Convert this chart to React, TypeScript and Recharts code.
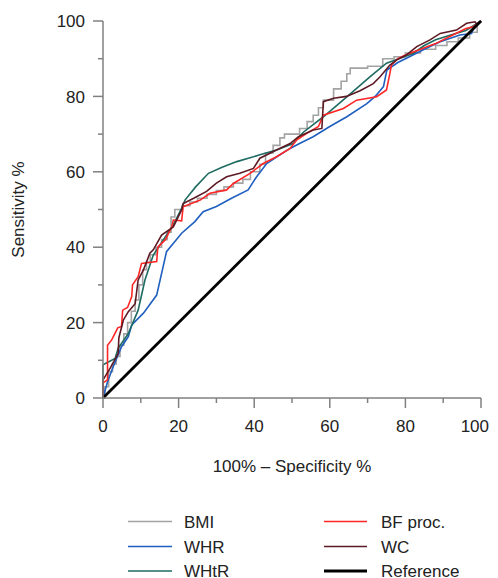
import React from 'react';
import { LineChart, Line, XAxis, YAxis } from 'recharts';

const axisTicks = [0, 10, 20, 30, 40, 50, 60, 70, 80, 90, 100];

const seriesNames = ['BMI', 'WHR', 'WHtR', 'BF proc.', 'WC', 'Reference'];

const bmiPoints: number[][] = [
  [0, 0], [0.5, 0], [0.5, 3], [1.5, 3], [1.5, 7], [2.5, 7], [2.5, 9], [3.5, 9], [3.5, 11], [4.5, 11],
  [4.5, 14], [5.5, 14], [5.5, 17], [6.5, 17], [6.5, 20], [7.5, 20], [7.5, 23], [8.5, 23], [8.5, 26],
  [9.5, 26], [9.5, 30], [10.5, 30], [10.5, 34], [11.5, 34], [11.5, 36], [12.5, 36], [12.5, 38], [14, 38],
  [14, 40], [15.5, 40], [15.5, 42], [17, 42], [17, 44], [18, 44], [18, 48], [19, 48], [19, 50], [21, 50],
  [21, 51], [23, 51], [23, 52], [25, 52], [25, 53], [27.5, 53], [27.5, 54], [30, 54], [30, 55], [32, 55],
  [32, 56], [34.5, 56], [34.5, 57], [37, 57], [37, 58], [39, 58], [39, 60], [41.5, 60], [41.5, 62], [43, 62],
  [43, 65], [45, 65], [45, 67], [46.8, 67], [46.8, 69], [48, 69], [48, 70], [52, 70], [52, 71.5], [54, 71.5],
  [54, 73.3], [55.6, 73.3], [55.6, 75], [57, 75], [57, 77], [58.3, 77], [58.3, 79], [61, 79], [61, 82],
  [63, 82], [63, 84], [64.5, 84], [64.5, 86], [65.4, 86], [65.4, 87.5], [70, 87.5], [70, 88], [74, 88],
  [74, 90], [77, 90], [77, 90.5], [80, 90.5], [80, 91.5], [84, 91.5], [84, 92.5], [88, 92.5], [88, 93.5],
  [91, 93.5], [91, 94.5], [94, 94.5], [94, 95.5], [97, 95.5], [97, 97], [99, 97], [99, 99], [100, 100],
];

const whrPoints: number[][] = [
  [0, 0], [1.2, 4.3], [2.7, 8.3], [4.9, 13.6], [6.7, 16.3], [7.6, 19.4], [10.7, 22.5], [14.2, 27.3],
  [16.8, 38.8], [20.8, 43.7], [24.3, 46.8], [26.5, 49.4], [30, 50.8], [34, 53], [38.4, 55.2], [40.5, 58.5],
  [43.3, 62.2], [46, 64], [49.5, 66.2], [52, 67.5], [55.6, 69.3], [60, 72], [64.5, 74.6], [69.8, 78.1],
  [72, 80], [74.2, 82.6], [75.1, 87], [78, 89], [80, 90], [85, 92.5], [89.2, 94.5], [94.4, 96.3],
  [97.5, 96.7], [98, 98], [100, 100],
];

const whtrPoints: number[][] = [
  [0, 0], [0, 8.8], [3.2, 10.5], [4, 13.2], [6.7, 17.1], [9.3, 23.3], [11.1, 31.3], [13.3, 37.9],
  [16, 42], [18.6, 45.9], [20.8, 50.3], [21.7, 52.5], [24.5, 56], [27.9, 59.6], [31.5, 61.2], [35.4, 62.7],
  [41.5, 64.5], [45.9, 65.8], [50.3, 67.5], [53, 70.5], [58.3, 74.6], [64.5, 79.9], [70.6, 85.2],
  [75, 88.8], [78.6, 90.1], [82, 91.4], [85, 93.5], [88, 95], [92, 96.3], [96, 97.5], [100, 100],
];

const bfPoints: number[][] = [
  [0, 0], [0, 4], [1.2, 4.8], [1.2, 14], [2.3, 15.4], [3.9, 18.6], [4.9, 19], [5.2, 23.3], [6.5, 24],
  [7.6, 26.9], [7.8, 30], [9.3, 32.2], [10.2, 35.7], [14.2, 36.2], [14.5, 40], [16.5, 42], [18.2, 45.4],
  [18.6, 47.2], [20.8, 47], [21.2, 50.7], [25.7, 52.5], [28.3, 54.3], [32.7, 55.2], [34.5, 56.9],
  [38.9, 59.6], [42.4, 62.2], [45.9, 64], [49.5, 66.2], [51.2, 68.4], [53.9, 70.2], [57, 72], [58.3, 75],
  [63.6, 76.8], [67.1, 79], [72.4, 79.9], [75, 81.7], [75.9, 86.1], [76.3, 88.3], [78, 90], [80, 91],
  [84, 92.5], [88, 94], [92, 96], [96, 98], [98, 98.5], [100, 100],
];

const wcPoints: number[][] = [
  [0, 0], [0, 4.8], [1.9, 7.9], [4, 11.8], [4.2, 16], [5.4, 20.7], [6.7, 22.9], [8.5, 25], [9.3, 31.3],
  [10.7, 34], [12.4, 38.4], [13.3, 39.3], [15.5, 43.2], [18.6, 45.4], [20.8, 49.9], [21.2, 51.6], [24, 53],
  [27.4, 54.8], [30, 57], [32.7, 58.7], [36.2, 59.6], [39.8, 60.9], [41.5, 63.6], [45.9, 65.8], [49.5, 67.5],
  [51.7, 69.3], [55.6, 71.1], [57.9, 71.5], [58.3, 78.6], [61, 79.5], [64.4, 80], [68, 81.5], [71.5, 83.4],
  [73.3, 85.2], [75.9, 88.3], [77.7, 89.7], [80.3, 91], [83, 93.2], [86.5, 95], [89.2, 96.7], [93.5, 97.6],
  [96.2, 99.4], [98.4, 99.8], [99, 99], [100, 100],
];

const referencePoints: number[][] = [[0, 0], [100, 100]];

const colors = ['#a3a3a3', '#1f5fbf', '#1e6b62', '#ff2626', '#5e1a24', '#000000'];
const widths = [1.6, 1.6, 1.6, 1.6, 1.6, 2.8];

const toData = (arr: number[][]) => arr.map(([x, y]) => ({ x, y }));

const allSeries = [bmiPoints, whrPoints, whtrPoints, bfPoints, wcPoints, referencePoints];

const FONT = '"Liberation Sans", Arial, sans-serif';
const AXIS_COLOR = '#808080';
const TEXT_COLOR = '#222';

const X_TICK_SIZE = 10;
const X_TICK_MARGIN = 12;
const Y_TICK_SIZE = 10;
const Y_TICK_MARGIN = 8;

const XTick = (props: any) => {
  const { x, y, payload } = props;
  const v = payload.value as number;
  const major = v % 20 === 0;
  const axisY = y - X_TICK_SIZE - X_TICK_MARGIN;
  const isLast = v === 100;
  return (
    <g>
      <line x1={x} x2={x} y1={axisY} y2={axisY + (major ? 10 : 5)} stroke={AXIS_COLOR} strokeWidth={1.5} />
      {major && (
        <text
          x={isLast ? x + 8 : x}
          y={y}
          dy="0.71em"
          textAnchor={isLast ? 'end' : 'middle'}
          fontSize={17}
          fontFamily={FONT}
          fill={TEXT_COLOR}
        >
          {v}
        </text>
      )}
    </g>
  );
};

const YTick = (props: any) => {
  const { x, y, payload } = props;
  const v = payload.value as number;
  const major = v % 20 === 0;
  const axisX = x + Y_TICK_SIZE + Y_TICK_MARGIN;
  return (
    <g>
      <line x1={axisX} x2={axisX - (major ? 10 : 5)} y1={y} y2={y} stroke={AXIS_COLOR} strokeWidth={1.5} />
      {major && (
        <text x={x} y={y} dy="0.36em" textAnchor="end" fontSize={17} fontFamily={FONT} fill={TEXT_COLOR}>
          {v}
        </text>
      )}
    </g>
  );
};

const legendLayout = [
  { lineX1: 120, lineX2: 164, textX: 176, y: 513.5 },
  { lineX1: 120, lineX2: 164, textX: 176, y: 538.5 },
  { lineX1: 120, lineX2: 164, textX: 176, y: 563 },
  { lineX1: 316, lineX2: 359, textX: 373, y: 513.5 },
  { lineX1: 316, lineX2: 359, textX: 373, y: 538.5 },
  { lineX1: 316, lineX2: 359, textX: 373, y: 563 },
];

const globalCss =
  'html, body { overflow: hidden; } .recharts-wrapper { overflow: visible !important; } .recharts-surface { overflow: visible !important; }';

export default function App() {
  return (
    <div style={{ position: 'relative', width: 482, height: 570 }}>
      <style>{globalCss}</style>
      <LineChart width={482} height={500} margin={{ top: 13, right: 9, bottom: 30, left: 0 }}>
        <XAxis
          type="number"
          dataKey="x"
          domain={[0, 100]}
          ticks={axisTicks}
          interval={0}
          allowDuplicatedCategory={false}
          height={80}
          tickSize={X_TICK_SIZE}
          tickMargin={X_TICK_MARGIN}
          tickLine={false}
          axisLine={{ stroke: AXIS_COLOR, strokeWidth: 1.5 }}
          tick={<XTick />}
          label={{
            value: '100% – Specificity %',
            position: 'insideBottom',
            offset: 6,
            fontSize: 17,
            fontFamily: FONT,
            fill: TEXT_COLOR,
          }}
        />
        <YAxis
          type="number"
          dataKey="y"
          domain={[0, 100]}
          ticks={axisTicks}
          interval={0}
          width={95}
          tickSize={Y_TICK_SIZE}
          tickMargin={Y_TICK_MARGIN}
          tickLine={false}
          axisLine={{ stroke: AXIS_COLOR, strokeWidth: 1.5 }}
          tick={<YTick />}
          label={{
            value: 'Sensitivity %',
            angle: -90,
            position: 'insideLeft',
            offset: 10,
            fontSize: 17,
            fontFamily: FONT,
            fill: TEXT_COLOR,
            style: { textAnchor: 'middle' },
          }}
        />
        {allSeries.map((pts, i) => (
          <Line
            key={seriesNames[i]}
            name={seriesNames[i]}
            data={toData(pts)}
            dataKey="y"
            type="linear"
            stroke={colors[i]}
            strokeWidth={widths[i]}
            dot={false}
            activeDot={false}
            isAnimationActive={false}
          />
        ))}
      </LineChart>
      <svg width={482} height={570} style={{ position: 'absolute', left: 0, top: 0, pointerEvents: 'none' }}>
        {legendLayout.map((l, i) => (
          <g key={seriesNames[i]}>
            <line x1={l.lineX1} x2={l.lineX2} y1={l.y} y2={l.y} stroke={colors[i]} strokeWidth={i === 5 ? 2.8 : 1.6} />
            <text x={l.textX} y={l.y} dy="0.36em" fontSize={17} fontFamily={FONT} fill={TEXT_COLOR}>
              {seriesNames[i]}
            </text>
          </g>
        ))}
      </svg>
    </div>
  );
}
